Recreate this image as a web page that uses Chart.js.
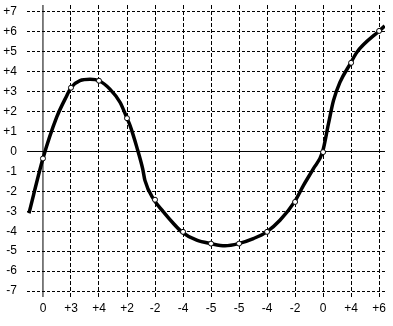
<!DOCTYPE html>
<html>
<head>
<meta charset="utf-8">
<script src="https://cdn.jsdelivr.net/npm/chart.js@4/dist/chart.umd.min.js"></script>
<style>
html,body{margin:0;padding:0;background:#fff;}
#wrap{width:393px;height:326px;}
</style>
</head>
<body>
<div id="wrap"><canvas id="c" width="393" height="326"></canvas></div>
<script>
// Category tick labels along the x axis (one per grid line)
const xLabels = ["0","+3","+4","+2","-2","-4","-5","-5","-4","-2","0","+4","+6"];
// Y tick values
const yTicks = [-7,-6,-5,-4,-3,-2,-1,0,1,2,3,4,5,6,7];
// Curve (x = grid position, y = value)
const curveX = [-0.5,0,0.49,0.85,1,1.32,1.68,2,2.39,2.75,3,3.11,3.35,3.56,3.64,3.96,4.3,4.65,4.95,5.49,5.99,6.5,6.98,7.51,7.99,8.46,8.98,9.3,9.65,9.98,10.19,10.37,10.6,10.99,11.2,12,12.2];
const curveY = [-3.1,-0.35,1.72,2.8,3.2,3.55,3.62,3.55,3.13,2.47,1.67,1.3,0.22,-0.87,-1.45,-2.42,-3.03,-3.6,-4.03,-4.45,-4.62,-4.73,-4.62,-4.37,-4.03,-3.45,-2.53,-1.7,-0.87,-0.03,1.38,2.55,3.47,4.45,4.97,6.05,6.3];
// Open circle markers at each grid position
const markerY = [-0.35,3.2,3.55,1.67,-2.42,-4.03,-4.62,-4.62,-4.03,-2.53,-0.03,4.45,6.05];

const X_MIN = -0.57, X_MAX = 12.21, Y_MIN = -7.3, Y_MAX = 7.35;

const curve = curveX.map((x,i)=>({x:x,y:curveY[i]}));
const markers = markerY.map((y,i)=>({x:i,y:y}));

function noPad(s){ s.paddingTop=0; s.paddingBottom=0; s.paddingLeft=0; s.paddingRight=0; }

new Chart(document.getElementById('c'), {
  type: 'line',
  data: {
    datasets: [
      { data: [{x:X_MIN,y:0},{x:X_MAX,y:0}], borderColor:'#000', borderWidth:1, pointRadius:0, order:3 },
      { data: [{x:0,y:Y_MIN},{x:0,y:Y_MAX}], borderColor:'#000', borderWidth:1, pointRadius:0, order:3 },
      { data: curve, borderColor:'#000', borderWidth:3.5, pointRadius:0, cubicInterpolationMode:'monotone', order:2 },
      { data: markers, showLine:false, pointRadius:2.5, pointBackgroundColor:'#fff', pointBorderColor:'#000', pointBorderWidth:1, order:1 }
    ]
  },
  options: {
    responsive:false,
    animation:false,
    events:[],
    layout:{padding:{top:4,right:8,left:0,bottom:0}},
    plugins:{legend:{display:false},tooltip:{enabled:false}},
    scales:{
      x:{
        type:'linear', min:X_MIN, max:X_MAX,
        afterBuildTicks: s => { s.ticks = xLabels.map((l,i)=>({value:i})); },
        afterFit: s => { s.height = 29; noPad(s); },
        ticks:{ autoSkip:false, maxRotation:0, padding:4, color:'#000',
          font:{family:'Liberation Sans', size:12},
          callback:(v,i)=> xLabels[i] },
        grid:{ color: ctx => (ctx.tick && ctx.tick.value===0) ? 'rgba(0,0,0,0)' : '#000', lineWidth:1, drawTicks:false },
        border:{ display:false, dash:[4,2] }
      },
      y:{
        type:'linear', min:Y_MIN, max:Y_MAX,
        afterBuildTicks: s => { s.ticks = yTicks.map(v=>({value:v})); },
        afterFit: s => { s.width = 27; noPad(s); },
        ticks:{ padding:10, color:'#000', font:{family:'Liberation Sans', size:12},
          callback: v => v>0 ? '+'+v : String(v) },
        grid:{ color: ctx => (ctx.tick && ctx.tick.value===0) ? 'rgba(0,0,0,0)' : '#000', lineWidth:1, drawTicks:false },
        border:{ display:false, dash:[3,2] }
      }
    }
  }
});
</script>
</body>
</html>
